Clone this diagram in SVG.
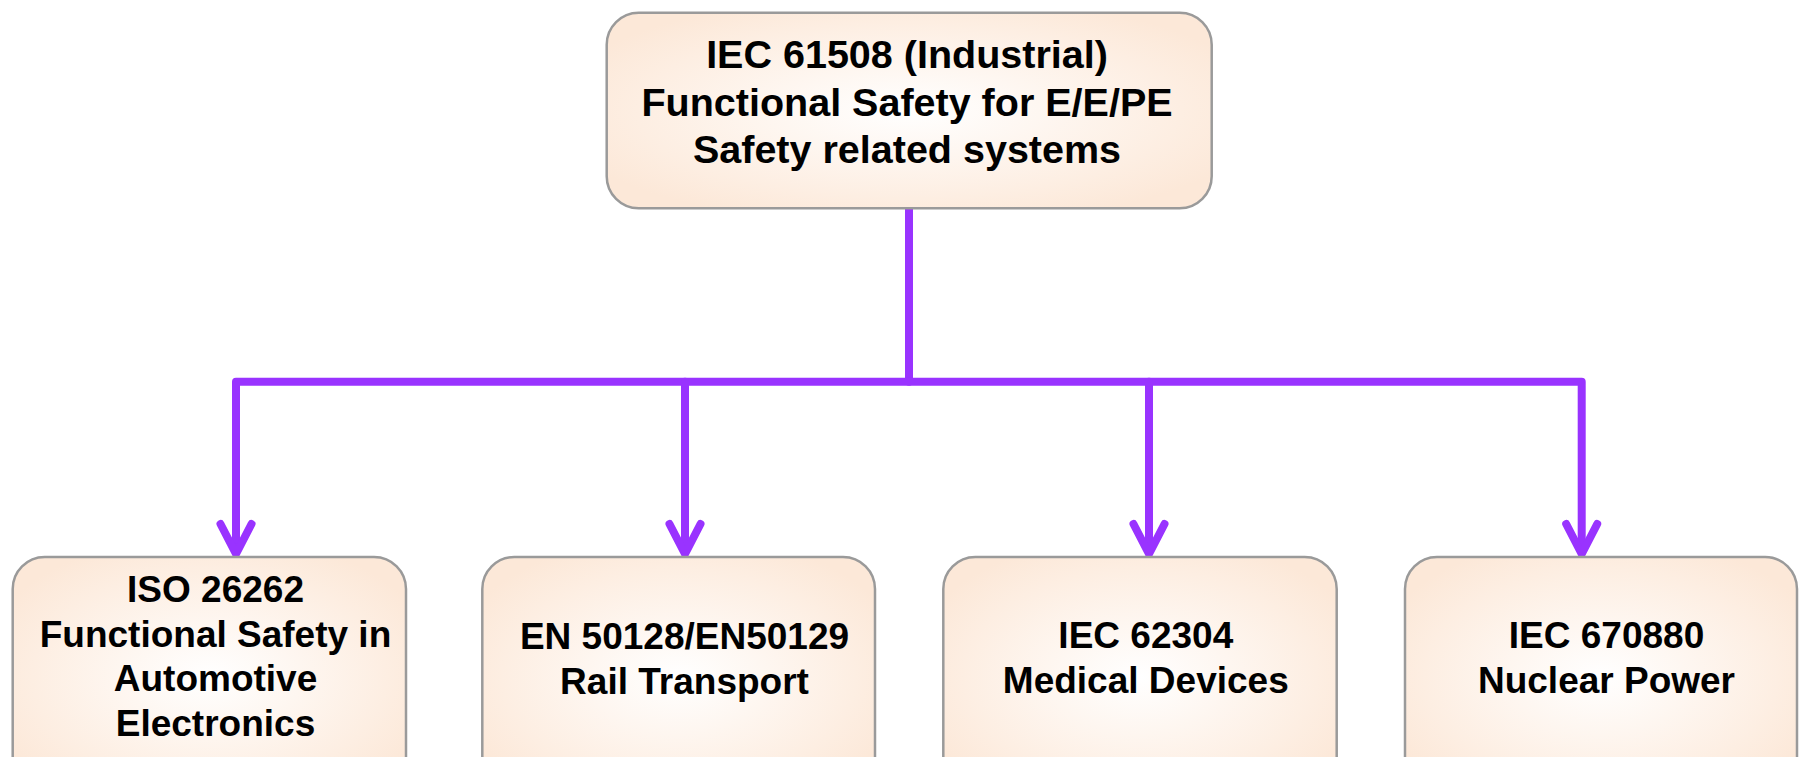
<svg xmlns="http://www.w3.org/2000/svg" width="1799" height="757" viewBox="0 0 1799 757">
<style>
.box{fill:url(#g);stroke:#9a9a9a;stroke-width:2.5}
.t{font-family:"Liberation Sans",Arial,sans-serif;font-weight:bold;fill:#000;text-anchor:middle}
.top{font-size:39.5px}
.bot{font-size:37px}
.c{fill:none;stroke:#9933ff;stroke-width:8;stroke-linecap:round;stroke-linejoin:round}
</style>
<defs>
<radialGradient id="g" cx="50%" cy="50%" r="60%">
<stop offset="0" stop-color="#ffffff"/>
<stop offset="0.75" stop-color="#fdeee2"/>
<stop offset="1" stop-color="#fce8d8"/>
</radialGradient>
</defs>
<g id="connectors">
<path class="c" d="M909 209 V381.7"/>
<path class="c" d="M236 552 V381.7 H1581.7 V552"/>
<path class="c" d="M685 381.7 V552"/>
<path class="c" d="M1149 381.7 V552"/>
<path class="c" d="M220.5 524 L236 554 L251.5 524"/>
<path class="c" d="M669.5 524 L685 554 L700.5 524"/>
<path class="c" d="M1133.5 524 L1149 554 L1164.5 524"/>
<path class="c" d="M1566.2 524 L1581.7 554 L1597.2 524"/>
</g>
<g id="top">
<rect class="box" x="606.7" y="12.7" width="605" height="195.5" rx="32"/>
<text class="t top" x="907" y="68.3">IEC 61508 (Industrial)</text>
<text class="t top" x="907" y="116.3">Functional Safety for E/E/PE</text>
<text class="t top" x="907" y="163">Safety related systems</text>
</g>
<g id="iso">
<rect class="box" x="12.7" y="557" width="393.3" height="240" rx="32"/>
<text class="t bot" x="215.5" y="602">ISO 26262</text>
<text class="t bot" x="215.5" y="646.5">Functional Safety in</text>
<text class="t bot" x="215.5" y="691">Automotive</text>
<text class="t bot" x="215.5" y="735.5">Electronics</text>
</g>
<g id="en">
<rect class="box" x="482.3" y="557" width="392.7" height="240" rx="32"/>
<text class="t bot" x="684.5" y="648.5">EN 50128/EN50129</text>
<text class="t bot" x="684.5" y="693.5">Rail Transport</text>
</g>
<g id="iec62304">
<rect class="box" x="943.3" y="557" width="393.4" height="240" rx="32"/>
<text class="t bot" x="1145.8" y="648.3">IEC 62304</text>
<text class="t bot" x="1145.8" y="693.3">Medical Devices</text>
</g>
<g id="iec670880">
<rect class="box" x="1405" y="557" width="392" height="240" rx="32"/>
<text class="t bot" x="1606.5" y="647.5">IEC 670880</text>
<text class="t bot" x="1606.5" y="692.5">Nuclear Power</text>
</g>
</svg>
